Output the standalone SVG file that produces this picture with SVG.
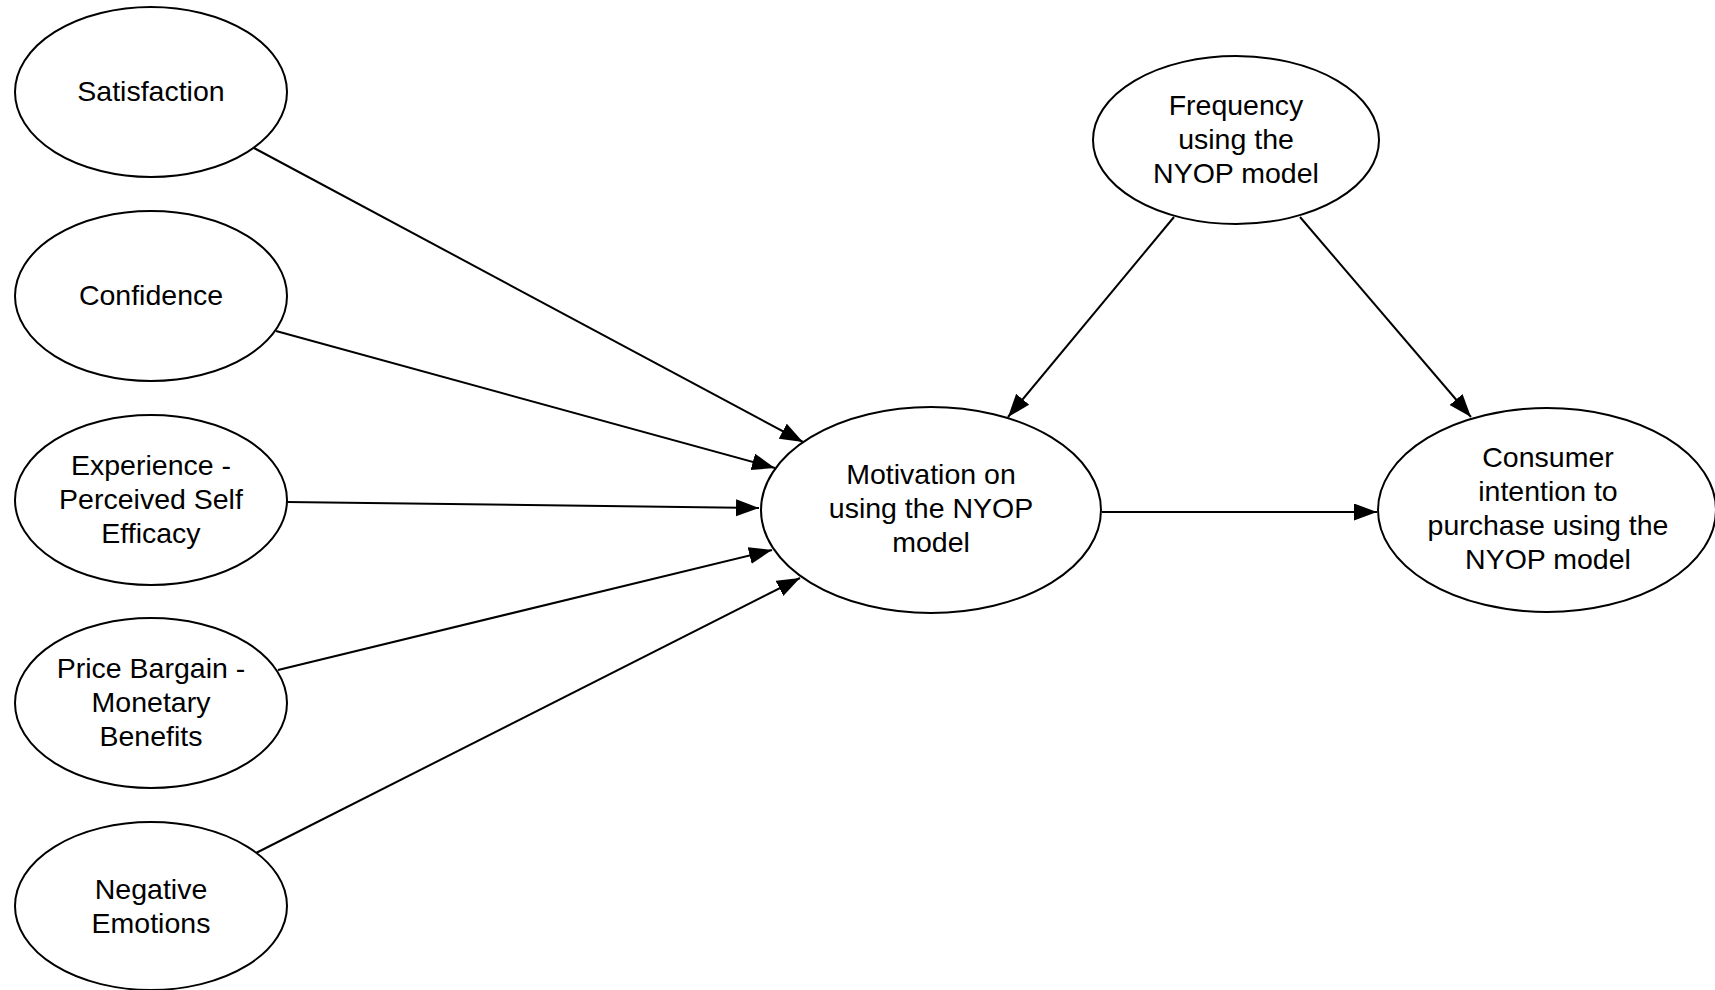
<svg xmlns="http://www.w3.org/2000/svg" width="1715" height="990" viewBox="0 0 1715 990">
  <style>
    .node ellipse { fill: #ffffff; stroke: #000000; stroke-width: 2; }
    .node text { font-family: "Liberation Sans", Arial, sans-serif; font-size: 28.5px; fill: #000000; text-anchor: middle; }
    .edge { stroke: #000000; stroke-width: 2; fill: none; marker-end: url(#arrow); }
  </style>
  <defs>
    <marker id="arrow" markerUnits="userSpaceOnUse" markerWidth="24" markerHeight="18" refX="23" refY="8.5" orient="auto">
      <path d="M0,0 L23,8.5 L0,17 Z" fill="#000000"/>
    </marker>
  </defs>
  <rect width="1715" height="990" fill="#ffffff"/>

  <g id="connectors">
    <line class="edge" x1="254" y1="148" x2="803" y2="442"/>
    <line class="edge" x1="276" y1="331" x2="775" y2="468"/>
    <line class="edge" x1="287" y1="502" x2="759" y2="508"/>
    <line class="edge" x1="278" y1="670" x2="772" y2="550"/>
    <line class="edge" x1="256" y1="853" x2="800" y2="578"/>
    <line class="edge" x1="1174" y1="217" x2="1008" y2="417"/>
    <line class="edge" x1="1300" y1="217" x2="1471" y2="417"/>
    <line class="edge" x1="1102" y1="512" x2="1377" y2="512"/>
  </g>

  <g id="satisfaction" class="node">
    <ellipse cx="151" cy="92" rx="136" ry="85"/>
    <text x="151" y="101">Satisfaction</text>
  </g>
  <g id="confidence" class="node">
    <ellipse cx="151" cy="296" rx="136" ry="85"/>
    <text x="151" y="305">Confidence</text>
  </g>
  <g id="experience" class="node">
    <ellipse cx="151" cy="500" rx="136" ry="85"/>
    <text x="151" y="475">Experience -</text>
    <text x="151" y="509">Perceived Self</text>
    <text x="151" y="543">Efficacy</text>
  </g>
  <g id="price-bargain" class="node">
    <ellipse cx="151" cy="703" rx="136" ry="85"/>
    <text x="151" y="678">Price Bargain -</text>
    <text x="151" y="712">Monetary</text>
    <text x="151" y="746">Benefits</text>
  </g>
  <g id="negative-emotions" class="node">
    <ellipse cx="151" cy="906" rx="136" ry="84"/>
    <text x="151" y="899">Negative</text>
    <text x="151" y="933">Emotions</text>
  </g>
  <g id="motivation" class="node">
    <ellipse cx="931" cy="510" rx="170" ry="103"/>
    <text x="931" y="484">Motivation on</text>
    <text x="931" y="518">using the NYOP</text>
    <text x="931" y="552">model</text>
  </g>
  <g id="frequency" class="node">
    <ellipse cx="1236" cy="140" rx="143" ry="84"/>
    <text x="1236" y="115">Frequency</text>
    <text x="1236" y="149">using the</text>
    <text x="1236" y="183">NYOP model</text>
  </g>
  <g id="purchase-intention" class="node">
    <ellipse cx="1547" cy="510" rx="169" ry="102"/>
    <text x="1548" y="467">Consumer</text>
    <text x="1548" y="501">intention to</text>
    <text x="1548" y="535">purchase using the</text>
    <text x="1548" y="569">NYOP model</text>
  </g>
</svg>
